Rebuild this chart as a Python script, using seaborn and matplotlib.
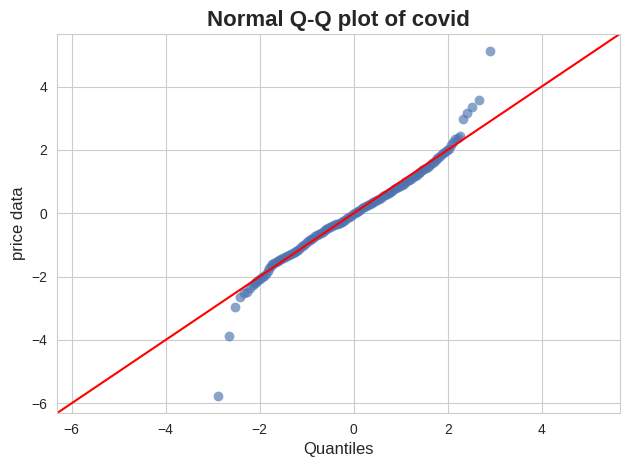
import matplotlib
matplotlib.use("Agg")
import matplotlib.pyplot as plt
import seaborn as sns
import pandas as pd

# Theoretical normal quantiles (x) and standardized sample quantiles (y)
lower_tail_x = [-2.89, -2.66, -2.52, -2.42, -2.33, -2.27, -2.21, -2.15, -2.11, -2.07]
lower_tail_y = [-5.77, -3.87, -2.95, -2.65, -2.53, -2.48, -2.36, -2.26, -2.20, -2.16]

band_x = [-2.03, -1.99, -1.95, -1.91, -1.87, -1.83, -1.80, -1.77, -1.74, -1.70,
          -1.66, -1.62, -1.58, -1.54, -1.50, -1.46, -1.42, -1.38, -1.34, -1.30,
          -1.26, -1.22, -1.18, -1.14, -1.10, -1.06, -1.02, -0.98, -0.94, -0.90,
          -0.86, -0.82, -0.78, -0.74, -0.70, -0.66, -0.62, -0.58, -0.54, -0.50,
          -0.46, -0.42, -0.38, -0.34, -0.30, -0.26, -0.22, -0.18, -0.14, -0.10,
          -0.06, -0.02, 0.02, 0.06, 0.10, 0.14, 0.18, 0.22, 0.26, 0.30,
          0.34, 0.38, 0.42, 0.46, 0.50, 0.54, 0.58, 0.62, 0.66, 0.70,
          0.74, 0.78, 0.82, 0.86, 0.90, 0.94, 0.98, 1.02, 1.06, 1.10,
          1.14, 1.18, 1.22, 1.26, 1.30, 1.34, 1.38, 1.42, 1.46, 1.50,
          1.54, 1.58, 1.62, 1.66, 1.70, 1.74, 1.78, 1.82, 1.86, 1.90,
          1.94, 1.98, 2.02]
band_y = [-2.12, -2.07, -2.03, -1.98, -1.91, -1.82, -1.74, -1.66, -1.62, -1.58,
          -1.55, -1.52, -1.49, -1.46, -1.42, -1.39, -1.36, -1.33, -1.30, -1.27,
          -1.24, -1.20, -1.16, -1.11, -1.05, -0.99, -0.93, -0.88, -0.84, -0.80,
          -0.77, -0.73, -0.70, -0.66, -0.62, -0.58, -0.54, -0.51, -0.47, -0.44,
          -0.41, -0.38, -0.35, -0.33, -0.30, -0.27, -0.24, -0.20, -0.16, -0.12,
          -0.08, -0.04, 0.00, 0.04, 0.07, 0.11, 0.15, 0.18, 0.22, 0.25,
          0.29, 0.32, 0.35, 0.39, 0.42, 0.46, 0.49, 0.53, 0.57, 0.60,
          0.64, 0.67, 0.71, 0.75, 0.78, 0.82, 0.86, 0.89, 0.93, 0.97,
          1.01, 1.05, 1.09, 1.13, 1.18, 1.22, 1.27, 1.31, 1.35, 1.39,
          1.43, 1.47, 1.52, 1.57, 1.62, 1.67, 1.73, 1.79, 1.84, 1.89,
          1.94, 1.99, 2.04]

upper_tail_x = [2.07, 2.11, 2.15, 2.21, 2.27, 2.33, 2.42, 2.52, 2.66, 2.89]
upper_tail_y = [2.14, 2.25, 2.33, 2.38, 2.44, 2.96, 3.15, 3.36, 3.56, 5.12]

title_text = "Normal Q-Q plot of covid"
x_label = "Quantiles"
y_label = "price data"

df = pd.DataFrame({
    "theoretical": lower_tail_x + band_x + upper_tail_x,
    "sample": lower_tail_y + band_y + upper_tail_y,
})

sns.set_style("whitegrid")
plt.rcParams["font.family"] = ["Liberation Sans", "DejaVu Sans"]

fig, ax = plt.subplots(figsize=(6.3, 4.7), dpi=100)
sns.scatterplot(data=df, x="theoretical", y="sample", ax=ax,
                color="#4C72B0", alpha=0.65, s=50, linewidth=0)

# 45-degree reference line spanning the common limits (as statsmodels qqline '45')
ylo, yhi = ax.get_ylim()
lims = [ylo, yhi]
ax.plot(lims, lims, color="red", linewidth=1.5)
ax.set_xlim(lims)
ax.set_ylim(lims)

ax.set_title(title_text, fontsize=16, fontweight="bold")
ax.set_xlabel(x_label, fontsize=12)
ax.set_ylabel(y_label, fontsize=12)
ax.tick_params(labelsize=10)

fig.subplots_adjust(left=0.0905, right=0.984, top=0.928, bottom=0.121)
fig.savefig("out.png", dpi=100)
